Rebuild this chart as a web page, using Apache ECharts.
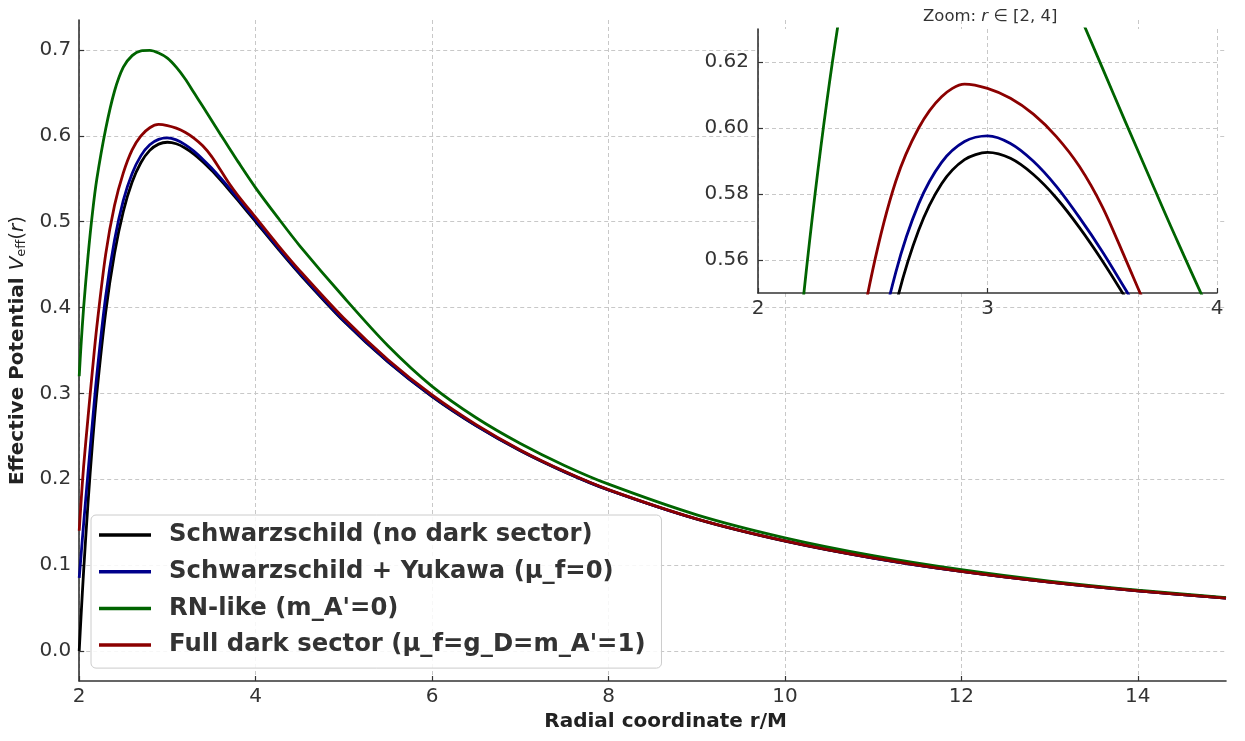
<!DOCTYPE html>
<html><head><meta charset="utf-8">
<script src="https://cdn.jsdelivr.net/npm/echarts@6/dist/echarts.min.js"></script>
<style>html,body{margin:0;padding:0;background:#fff}#c{width:1245px;height:741px}</style>
</head><body><div id="c"></div>
<script>
const radius = [2, 2.02, 2.05, 2.1, 2.15, 2.2, 2.3, 2.4, 2.5, 2.6, 2.7, 2.8, 2.9, 3.0, 3.1, 3.2, 3.3, 3.4, 3.5, 3.6, 3.7, 3.8, 4.0, 4.25, 4.5, 5, 5.5, 6, 6.5, 7, 7.5, 8, 9, 10, 11, 12, 13, 14, 15];
const schwarzschild = [0, 0.0388, 0.0929, 0.1728, 0.2415, 0.3005, 0.3945, 0.4630, 0.5120, 0.5462, 0.5690, 0.5831, 0.5904, 0.5926, 0.5908, 0.5859, 0.5788, 0.5699, 0.5598, 0.5487, 0.5370, 0.5249, 0.5000, 0.4689, 0.4390, 0.3840, 0.3366, 0.2963, 0.2622, 0.2332, 0.2086, 0.1875, 0.1536, 0.1280, 0.1082, 0.0926, 0.0801, 0.0700, 0.0616];
const yukawa = [0.085, 0.110, 0.148, 0.208, 0.266, 0.322, 0.4130, 0.4785, 0.5250, 0.5562, 0.5770, 0.5896, 0.5959, 0.5976, 0.5953, 0.5899, 0.5823, 0.5729, 0.5626, 0.5512, 0.5393, 0.5269, 0.5018, 0.4704, 0.4403, 0.3850, 0.3374, 0.2969, 0.2627, 0.2336, 0.2089, 0.1877, 0.1537, 0.1281, 0.1082, 0.0926, 0.0801, 0.0700, 0.0616];
const rnLike = [0.320, 0.355, 0.400, 0.460, 0.510, 0.550, 0.608, 0.652, 0.680, 0.6935, 0.6990, 0.6995, 0.6965, 0.6905, 0.6800, 0.6665, 0.6505, 0.6345, 0.6183, 0.6020, 0.5860, 0.5700, 0.5395, 0.5050, 0.4720, 0.4120, 0.3556, 0.3083, 0.2717, 0.2417, 0.2161, 0.1943, 0.1586, 0.1318, 0.1110, 0.0946, 0.0814, 0.0708, 0.0622];
const fullDark = [0.140, 0.172, 0.215, 0.272, 0.327, 0.378, 0.462, 0.519, 0.557, 0.5838, 0.6000, 0.6095, 0.6133, 0.6120, 0.6090, 0.6042, 0.5974, 0.5884, 0.5762, 0.5605, 0.5445, 0.5305, 0.5050, 0.4731, 0.4430, 0.3875, 0.3393, 0.2983, 0.2637, 0.2342, 0.2093, 0.1880, 0.1539, 0.1282, 0.1083, 0.0926, 0.0801, 0.0700, 0.0616];
const seriesNames = ["Schwarzschild (no dark sector)", "Schwarzschild + Yukawa (\u03bc_f=0)", "RN-like (m_A'=0)", "Full dark sector (\u03bc_f=g_D=m_A'=1)"];
const seriesColors = ['#000000', '#00008b', '#006400', '#8b0000'];
const xTicks = [2, 4, 6, 8, 10, 12, 14];
const yTicks = [0, 0.1, 0.2, 0.3, 0.4, 0.5, 0.6, 0.7];
const insetXTicks = [2, 3, 4];
const insetYTicks = [0.56, 0.58, 0.60, 0.62];

const FONT = 'DejaVu Sans';
const allSeries = [schwarzschild, yukawa, rnLike, fullDark];
const pairs = s => radius.map((r, i) => [r, s[i]]);

const gridLine = {show: true, lineStyle: {type: [4, 3], color: '#c8c8c8', width: 1}};
const spine = {show: true, onZero: false, lineStyle: {color: '#333', width: 1.6}};
const tick = vals => ({show: true, inside: true, length: 5, customValues: vals, lineStyle: {color: '#333', width: 1.2}});
const label = (vals, fmt, margin) => ({customValues: vals, formatter: fmt, fontSize: 20, color: '#333', fontFamily: FONT, margin: margin});

const series = [];
[0, 1].forEach(g => {
  allSeries.forEach((s, k) => {
    series.push({name: seriesNames[k], type: 'line', xAxisIndex: g, yAxisIndex: g, data: pairs(s),
      showSymbol: false, smooth: 0.3, color: seriesColors[k],
      lineStyle: {width: 2.8, color: seriesColors[k]}, z: 3 + k});
  });
});

const chart = echarts.init(document.getElementById('c'), null, {renderer: 'canvas'});
chart.setOption({
  animation: false,
  backgroundColor: '#ffffff',
  textStyle: {fontFamily: FONT},
  title: {text: 'Zoom: {i|r} \u2208 [2, 4]', left: 918, top: 3,
    textStyle: {fontSize: 16.5, fontWeight: 'normal', color: '#333', fontFamily: FONT,
      rich: {i: {fontStyle: 'italic', fontSize: 16.5, color: '#333', fontFamily: FONT}}}},
  grid: [
    {left: 79, top: 20, right: 19, bottom: 60, containLabel: false},
    {left: 758, top: 29, right: 28, bottom: 448, containLabel: false, show: true, backgroundColor: '#ffffff', borderWidth: 0, z: 1}
  ],
  xAxis: [
    {gridIndex: 0, type: 'value', min: 2, max: 15, axisLine: spine, axisTick: tick(xTicks),
      axisLabel: label(xTicks, v => String(v), 6), splitLine: gridLine,
      name: 'Radial coordinate r/M', nameLocation: 'middle', nameGap: 31,
      nameTextStyle: {fontWeight: 'bold', fontSize: 20, color: '#222', fontFamily: FONT, padding: [0, 0, 0, 26]}},
    {gridIndex: 1, type: 'value', min: 2, max: 4, interval: 1, axisLine: spine, z: 2,
      axisTick: {show: true, inside: true, length: 5, lineStyle: {color: '#333', width: 1.2}},
      axisLabel: {fontSize: 20, color: '#333', fontFamily: FONT, margin: 6}, splitLine: gridLine}
  ],
  yAxis: [
    {gridIndex: 0, type: 'value', min: -0.035, max: 0.735, axisLine: spine, axisTick: tick(yTicks),
      axisLabel: label(yTicks, v => v.toFixed(1), 8), splitLine: gridLine,
      name: '{b|Effective Potential }{i|V}{s|eff}{n|(}{i|r}{n|)}', nameLocation: 'middle', nameGap: 48,
      nameTextStyle: {rich: {
        b: {fontWeight: 'bold', fontSize: 20, color: '#222', fontFamily: FONT},
        i: {fontStyle: 'italic', fontSize: 20, color: '#222', fontFamily: FONT},
        s: {fontSize: 13, color: '#222', fontFamily: FONT, verticalAlign: 'bottom', padding: [8, 0, 0, 0]},
        n: {fontSize: 20, color: '#222', fontFamily: FONT}}}},
    {gridIndex: 1, type: 'value', min: 0.55, max: 0.63, axisLine: spine, axisTick: tick(insetYTicks), z: 2,
      axisLabel: label(insetYTicks, v => v.toFixed(2), 9), splitLine: gridLine}
  ],
  legend: {
    data: seriesNames, orient: 'vertical', left: 91, top: 515, selectedMode: false,
    icon: 'rect', itemWidth: 52, itemHeight: 3.5, itemGap: 10.7,
    padding: [7, 16, 10, 8],
    backgroundColor: 'rgba(255,255,255,0.85)', borderColor: '#cccccc', borderWidth: 1, borderRadius: 5,
    textStyle: {fontSize: 24.3, fontWeight: 'bold', color: '#333', fontFamily: FONT, lineHeight: 26, padding: [0, 0, 0, 13]}
  },
  series: series
});
</script></body></html>
